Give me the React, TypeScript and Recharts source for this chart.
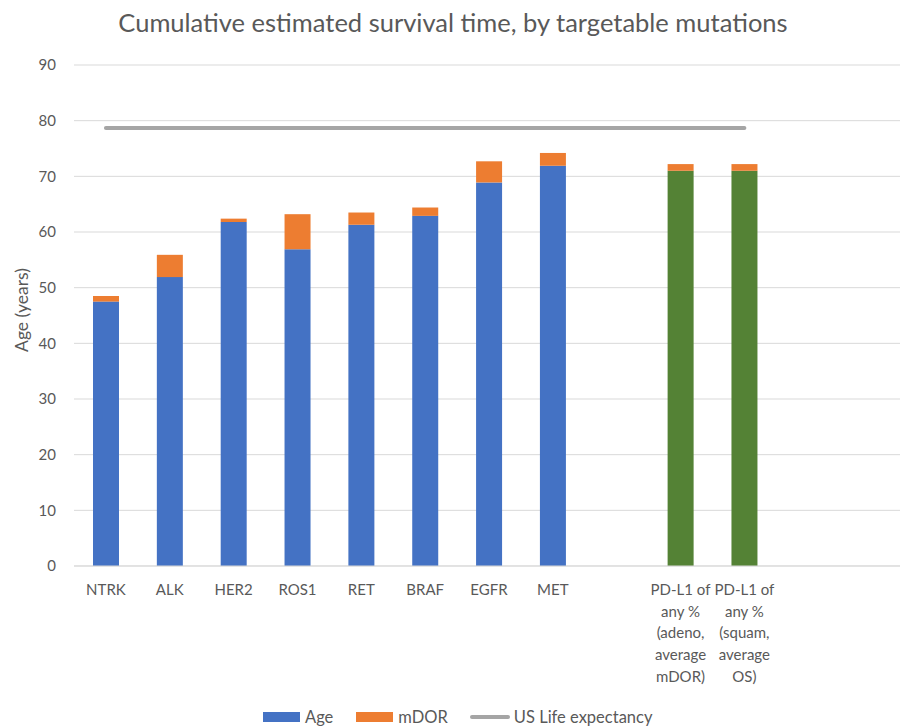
import React from 'react';
import { ComposedChart, Bar, Line, Cell, XAxis, YAxis, CartesianGrid } from 'recharts';

const categories = ['NTRK', 'ALK', 'HER2', 'ROS1', 'RET', 'BRAF', 'EGFR', 'MET', 'gap', 'PDL1-adeno', 'PDL1-squam', 'pad1', 'pad2'];
const tickLabels = [
  ['NTRK'], ['ALK'], ['HER2'], ['ROS1'], ['RET'], ['BRAF'], ['EGFR'], ['MET'], [''],
  ['PD-L1 of', 'any %', '(adeno,', 'average', 'mDOR)'],
  ['PD-L1 of', 'any %', '(squam,', 'average', 'OS)'],
  [''], [''],
];
const ageValues = [47.5, 51.9, 61.8, 56.9, 61.3, 62.9, 68.9, 71.9, null, 71.0, 71.0, null, null];
const mdorValues = [1.0, 4.0, 0.6, 6.3, 2.2, 1.5, 3.8, 2.3, null, 1.2, 1.2, null, null];
const lifeExpectancy = [78.7, 78.7, 78.7, 78.7, 78.7, 78.7, 78.7, 78.7, 78.7, 78.7, 78.7, null, null];
const pdl1Bars = [9, 10];
const yTicks = [0, 10, 20, 30, 40, 50, 60, 70, 80, 90];

const FONT = 'Lato, "Open Sans", sans-serif';
const TEXT = '#595959';

const data = categories.map((c, i) => ({
  id: c,
  age: ageValues[i],
  mdor: mdorValues[i],
  life: lifeExpectancy[i],
}));

const XTick = ({ x, y, payload }: any) => {
  const lines = tickLabels[payload.index] || [''];
  return (
    <text x={x} y={y} textAnchor="middle" fill={TEXT} fontSize={15} fontFamily={FONT}>
      {lines.map((l, i) => (
        <tspan key={i} x={x} dy={i === 0 ? 29 : 21.7}>{l}</tspan>
      ))}
    </text>
  );
};

export default function App() {
  return (
    <div style={{ position: 'absolute', left: 0, top: 0, width: 900, height: 727, overflow: 'hidden', background: '#fff', fontFamily: FONT }}>
      <div style={{ position: 'absolute', top: 7, left: 0, width: 906, textAlign: 'center', fontSize: 25.5, color: TEXT }}>
        Cumulative estimated survival time, by targetable mutations
      </div>
      <div style={{ position: 'absolute', left: 21, top: 310, width: 0, height: 0 }}>
        <div style={{ position: 'absolute', transform: 'translate(-50%, -50%) rotate(-90deg)', fontSize: 17.5, color: TEXT, whiteSpace: 'nowrap' }}>
          Age (years)
        </div>
      </div>
      <ComposedChart width={904} height={727} data={data} margin={{ top: 65, right: 0, bottom: 31, left: 0 }}>
        <CartesianGrid vertical={false} stroke="#D9D9D9" strokeWidth={1} />
        <XAxis
          dataKey="id"
          height={130}
          interval={0}
          tickLine={false}
          tickSize={0}
          tickMargin={0}
          axisLine={{ stroke: '#D9D9D9' }}
          tick={<XTick />}
        />
        <YAxis
          width={74}
          domain={[0, 90]}
          ticks={yTicks}
          axisLine={false}
          tickLine={false}
          tickSize={8}
          tickMargin={10}
          tick={{ fill: TEXT, fontSize: 15, fontFamily: FONT }}
        />
        <Bar dataKey="age" stackId="a" fill="#4472C4" barSize={26} isAnimationActive={false}>
          {data.map((d, i) => (
            <Cell key={i} fill={pdl1Bars.includes(i) ? '#548235' : '#4472C4'} />
          ))}
        </Bar>
        <Bar dataKey="mdor" stackId="a" fill="#ED7D31" barSize={26} isAnimationActive={false} />
        <Line
          dataKey="life"
          stroke="#A5A5A5"
          strokeWidth={4}
          strokeLinecap="round"
          dot={false}
          activeDot={false}
          isAnimationActive={false}
        />
      </ComposedChart>
      <div style={{ position: 'absolute', top: 707, left: 263, display: 'flex', alignItems: 'center', fontSize: 16.5, color: TEXT, whiteSpace: 'nowrap' }}>
        <span style={{ width: 37, height: 10, background: '#4472C4', display: 'inline-block' }} />
        <span style={{ marginLeft: 5, marginRight: 23 }}>Age</span>
        <span style={{ width: 37, height: 10, background: '#ED7D31', display: 'inline-block' }} />
        <span style={{ marginLeft: 5, marginRight: 22 }}>mDOR</span>
        <span style={{ width: 40, height: 4, background: '#A5A5A5', display: 'inline-block', borderRadius: 2 }} />
        <span style={{ marginLeft: 4 }}>US Life expectancy</span>
      </div>
    </div>
  );
}
